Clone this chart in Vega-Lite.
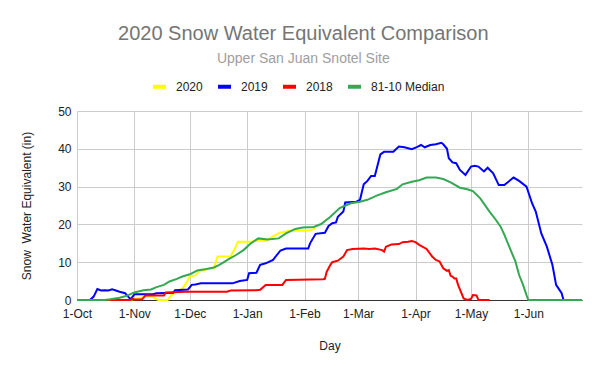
{
  "$schema": "https://vega.github.io/schema/vega-lite/v6.json",
  "width": 505,
  "height": 189,
  "autosize": {"type": "none"},
  "padding": {"left": 77, "top": 111, "right": 18, "bottom": 71},
  "background": "white",
  "title": {
    "text": "2020 Snow Water Equivalent Comparison",
    "subtitle": "Upper San Juan Snotel Site",
    "anchor": "middle",
    "frame": "bounds",
    "font": "Liberation Sans",
    "fontSize": 20,
    "fontWeight": "normal",
    "color": "#757575",
    "subtitleFont": "Liberation Sans",
    "subtitleFontSize": 14,
    "subtitleColor": "#9e9e9e",
    "subtitlePadding": 8,
    "offset": 12
  },
  "config": {
    "view": {"stroke": null},
    "font": "Liberation Sans",
    "axis": {
      "labelFont": "Liberation Sans",
      "labelFontSize": 12,
      "labelColor": "#222222",
      "titleFont": "Liberation Sans",
      "titleFontSize": 12,
      "titleFontWeight": "normal",
      "titleColor": "#222222",
      "grid": true,
      "gridColor": "#cccccc",
      "gridWidth": 1,
      "ticks": false
    },
    "legend": {
      "labelFont": "Liberation Sans",
      "labelFontSize": 12,
      "labelColor": "#222222"
    }
  },
  "data": {
    "values": [
      {"s": "2020", "date": "2019-10-01", "v": 0},
      {"s": "2020", "date": "2019-10-30", "v": 0},
      {"s": "2020", "date": "2019-11-01", "v": 0.3},
      {"s": "2020", "date": "2019-11-04", "v": 0.5},
      {"s": "2020", "date": "2019-11-06", "v": 0.9},
      {"s": "2020", "date": "2019-11-11", "v": 0.9},
      {"s": "2020", "date": "2019-11-12", "v": 0.4},
      {"s": "2020", "date": "2019-11-14", "v": 0},
      {"s": "2020", "date": "2019-11-19", "v": 0},
      {"s": "2020", "date": "2019-11-21", "v": 1.3},
      {"s": "2020", "date": "2019-11-24", "v": 2.2},
      {"s": "2020", "date": "2019-11-27", "v": 3.1},
      {"s": "2020", "date": "2019-11-29", "v": 4.4},
      {"s": "2020", "date": "2019-12-01", "v": 6.3},
      {"s": "2020", "date": "2019-12-04", "v": 6.5},
      {"s": "2020", "date": "2019-12-06", "v": 7.5},
      {"s": "2020", "date": "2019-12-10", "v": 8.1},
      {"s": "2020", "date": "2019-12-14", "v": 8.4},
      {"s": "2020", "date": "2019-12-16", "v": 11.5},
      {"s": "2020", "date": "2019-12-23", "v": 11.5},
      {"s": "2020", "date": "2019-12-25", "v": 13.2},
      {"s": "2020", "date": "2019-12-27", "v": 15.4},
      {"s": "2020", "date": "2020-01-03", "v": 15.4},
      {"s": "2020", "date": "2020-01-06", "v": 15.7},
      {"s": "2020", "date": "2020-01-11", "v": 15.7},
      {"s": "2020", "date": "2020-01-13", "v": 16.3},
      {"s": "2020", "date": "2020-01-18", "v": 17.6},
      {"s": "2020", "date": "2020-01-19", "v": 17.8},
      {"s": "2020", "date": "2020-01-24", "v": 18.3},
      {"s": "2020", "date": "2020-02-01", "v": 18.3},
      {"s": "2020", "date": "2020-02-04", "v": 18.5},
      {"s": "2020", "date": "2020-02-07", "v": 18.9},

      {"s": "2019", "date": "2019-10-01", "v": 0},
      {"s": "2019", "date": "2019-10-08", "v": 0},
      {"s": "2019", "date": "2019-10-10", "v": 0.9},
      {"s": "2019", "date": "2019-10-12", "v": 2.9},
      {"s": "2019", "date": "2019-10-14", "v": 2.5},
      {"s": "2019", "date": "2019-10-16", "v": 2.6},
      {"s": "2019", "date": "2019-10-18", "v": 2.5},
      {"s": "2019", "date": "2019-10-20", "v": 2.8},
      {"s": "2019", "date": "2019-10-22", "v": 2.5},
      {"s": "2019", "date": "2019-10-24", "v": 2.2},
      {"s": "2019", "date": "2019-10-27", "v": 1.8},
      {"s": "2019", "date": "2019-10-29", "v": 0.7},
      {"s": "2019", "date": "2019-10-30", "v": 0.2},
      {"s": "2019", "date": "2019-10-31", "v": 0.8},
      {"s": "2019", "date": "2019-11-01", "v": 1.5},
      {"s": "2019", "date": "2019-11-11", "v": 1.5},
      {"s": "2019", "date": "2019-11-13", "v": 1.8},
      {"s": "2019", "date": "2019-11-22", "v": 1.9},
      {"s": "2019", "date": "2019-11-23", "v": 2.6},
      {"s": "2019", "date": "2019-11-30", "v": 2.8},
      {"s": "2019", "date": "2019-12-02", "v": 4.0},
      {"s": "2019", "date": "2019-12-04", "v": 4.1},
      {"s": "2019", "date": "2019-12-07", "v": 4.4},
      {"s": "2019", "date": "2019-12-24", "v": 4.4},
      {"s": "2019", "date": "2019-12-28", "v": 5.0},
      {"s": "2019", "date": "2020-01-01", "v": 5.3},
      {"s": "2019", "date": "2020-01-02", "v": 7.1},
      {"s": "2019", "date": "2020-01-06", "v": 7.2},
      {"s": "2019", "date": "2020-01-08", "v": 9.3},
      {"s": "2019", "date": "2020-01-11", "v": 9.7},
      {"s": "2019", "date": "2020-01-15", "v": 10.6},
      {"s": "2019", "date": "2020-01-17", "v": 11.9},
      {"s": "2019", "date": "2020-01-19", "v": 13.1},
      {"s": "2019", "date": "2020-01-22", "v": 13.6},
      {"s": "2019", "date": "2020-02-03", "v": 13.6},
      {"s": "2019", "date": "2020-02-04", "v": 15.0},
      {"s": "2019", "date": "2020-02-07", "v": 17.5},
      {"s": "2019", "date": "2020-02-12", "v": 17.8},
      {"s": "2019", "date": "2020-02-14", "v": 19.6},
      {"s": "2019", "date": "2020-02-16", "v": 20.3},
      {"s": "2019", "date": "2020-02-18", "v": 20.5},
      {"s": "2019", "date": "2020-02-19", "v": 22.0},
      {"s": "2019", "date": "2020-02-22", "v": 23.4},
      {"s": "2019", "date": "2020-02-23", "v": 25.8},
      {"s": "2019", "date": "2020-02-29", "v": 26.0},
      {"s": "2019", "date": "2020-03-02", "v": 26.5},
      {"s": "2019", "date": "2020-03-04", "v": 30.6},
      {"s": "2019", "date": "2020-03-06", "v": 31.5},
      {"s": "2019", "date": "2020-03-08", "v": 32.8},
      {"s": "2019", "date": "2020-03-10", "v": 32.8},
      {"s": "2019", "date": "2020-03-13", "v": 38.5},
      {"s": "2019", "date": "2020-03-15", "v": 39.2},
      {"s": "2019", "date": "2020-03-20", "v": 39.2},
      {"s": "2019", "date": "2020-03-23", "v": 40.6},
      {"s": "2019", "date": "2020-03-26", "v": 40.4},
      {"s": "2019", "date": "2020-03-30", "v": 39.9},
      {"s": "2019", "date": "2020-04-02", "v": 40.5},
      {"s": "2019", "date": "2020-04-04", "v": 41.0},
      {"s": "2019", "date": "2020-04-06", "v": 40.4},
      {"s": "2019", "date": "2020-04-09", "v": 41.0},
      {"s": "2019", "date": "2020-04-12", "v": 41.2},
      {"s": "2019", "date": "2020-04-15", "v": 41.6},
      {"s": "2019", "date": "2020-04-16", "v": 41.2},
      {"s": "2019", "date": "2020-04-18", "v": 40.0},
      {"s": "2019", "date": "2020-04-19", "v": 37.5},
      {"s": "2019", "date": "2020-04-21", "v": 36.4},
      {"s": "2019", "date": "2020-04-23", "v": 36.2},
      {"s": "2019", "date": "2020-04-25", "v": 34.4},
      {"s": "2019", "date": "2020-04-28", "v": 33.1},
      {"s": "2019", "date": "2020-05-01", "v": 35.3},
      {"s": "2019", "date": "2020-05-03", "v": 35.5},
      {"s": "2019", "date": "2020-05-05", "v": 35.3},
      {"s": "2019", "date": "2020-05-08", "v": 34.0},
      {"s": "2019", "date": "2020-05-10", "v": 35.0},
      {"s": "2019", "date": "2020-05-13", "v": 33.5},
      {"s": "2019", "date": "2020-05-16", "v": 30.4},
      {"s": "2019", "date": "2020-05-19", "v": 30.4},
      {"s": "2019", "date": "2020-05-24", "v": 32.4},
      {"s": "2019", "date": "2020-05-27", "v": 31.5},
      {"s": "2019", "date": "2020-05-31", "v": 30.0},
      {"s": "2019", "date": "2020-06-03", "v": 25.6},
      {"s": "2019", "date": "2020-06-05", "v": 23.4},
      {"s": "2019", "date": "2020-06-08", "v": 17.6},
      {"s": "2019", "date": "2020-06-11", "v": 14.1},
      {"s": "2019", "date": "2020-06-14", "v": 9.3},
      {"s": "2019", "date": "2020-06-16", "v": 4.0},
      {"s": "2019", "date": "2020-06-19", "v": 1.8},
      {"s": "2019", "date": "2020-06-20", "v": 0},
      {"s": "2019", "date": "2020-06-30", "v": 0},

      {"s": "2018", "date": "2019-10-01", "v": 0},
      {"s": "2018", "date": "2019-10-30", "v": 0},
      {"s": "2018", "date": "2019-10-31", "v": 0.4},
      {"s": "2018", "date": "2019-11-01", "v": 0.1},
      {"s": "2018", "date": "2019-11-05", "v": 0.1},
      {"s": "2018", "date": "2019-11-07", "v": 1.2},
      {"s": "2018", "date": "2019-11-17", "v": 1.2},
      {"s": "2018", "date": "2019-11-18", "v": 2.0},
      {"s": "2018", "date": "2019-11-29", "v": 2.2},
      {"s": "2018", "date": "2019-12-21", "v": 2.2},
      {"s": "2018", "date": "2019-12-23", "v": 2.5},
      {"s": "2018", "date": "2020-01-06", "v": 2.6},
      {"s": "2018", "date": "2020-01-08", "v": 2.7},
      {"s": "2018", "date": "2020-01-11", "v": 4.0},
      {"s": "2018", "date": "2020-01-20", "v": 4.0},
      {"s": "2018", "date": "2020-01-22", "v": 5.3},
      {"s": "2018", "date": "2020-02-11", "v": 5.5},
      {"s": "2018", "date": "2020-02-12", "v": 5.6},
      {"s": "2018", "date": "2020-02-13", "v": 7.5},
      {"s": "2018", "date": "2020-02-15", "v": 9.3},
      {"s": "2018", "date": "2020-02-16", "v": 10.0},
      {"s": "2018", "date": "2020-02-19", "v": 10.4},
      {"s": "2018", "date": "2020-02-22", "v": 11.5},
      {"s": "2018", "date": "2020-02-24", "v": 13.2},
      {"s": "2018", "date": "2020-02-27", "v": 13.5},
      {"s": "2018", "date": "2020-03-04", "v": 13.6},
      {"s": "2018", "date": "2020-03-07", "v": 13.5},
      {"s": "2018", "date": "2020-03-10", "v": 13.6},
      {"s": "2018", "date": "2020-03-14", "v": 13.2},
      {"s": "2018", "date": "2020-03-15", "v": 12.8},
      {"s": "2018", "date": "2020-03-16", "v": 14.1},
      {"s": "2018", "date": "2020-03-19", "v": 14.7},
      {"s": "2018", "date": "2020-03-23", "v": 14.8},
      {"s": "2018", "date": "2020-03-25", "v": 15.3},
      {"s": "2018", "date": "2020-03-28", "v": 15.4},
      {"s": "2018", "date": "2020-03-30", "v": 15.6},
      {"s": "2018", "date": "2020-04-01", "v": 15.3},
      {"s": "2018", "date": "2020-04-03", "v": 14.6},
      {"s": "2018", "date": "2020-04-07", "v": 13.5},
      {"s": "2018", "date": "2020-04-10", "v": 11.5},
      {"s": "2018", "date": "2020-04-12", "v": 10.6},
      {"s": "2018", "date": "2020-04-14", "v": 10.2},
      {"s": "2018", "date": "2020-04-16", "v": 8.4},
      {"s": "2018", "date": "2020-04-18", "v": 7.7},
      {"s": "2018", "date": "2020-04-19", "v": 7.9},
      {"s": "2018", "date": "2020-04-20", "v": 6.4},
      {"s": "2018", "date": "2020-04-21", "v": 6.2},
      {"s": "2018", "date": "2020-04-22", "v": 5.7},
      {"s": "2018", "date": "2020-04-23", "v": 5.7},
      {"s": "2018", "date": "2020-04-24", "v": 4.0},
      {"s": "2018", "date": "2020-04-27", "v": 0.4},
      {"s": "2018", "date": "2020-04-29", "v": 0},
      {"s": "2018", "date": "2020-05-01", "v": 0.3},
      {"s": "2018", "date": "2020-05-02", "v": 1.3},
      {"s": "2018", "date": "2020-05-04", "v": 1.2},
      {"s": "2018", "date": "2020-05-05", "v": 0},
      {"s": "2018", "date": "2020-05-11", "v": 0},

      {"s": "81-10 Median", "date": "2019-10-01", "v": 0},
      {"s": "81-10 Median", "date": "2019-10-16", "v": 0},
      {"s": "81-10 Median", "date": "2019-10-19", "v": 0.2},
      {"s": "81-10 Median", "date": "2019-10-24", "v": 0.6},
      {"s": "81-10 Median", "date": "2019-10-28", "v": 1.1},
      {"s": "81-10 Median", "date": "2019-10-31", "v": 1.8},
      {"s": "81-10 Median", "date": "2019-11-02", "v": 2.1},
      {"s": "81-10 Median", "date": "2019-11-06", "v": 2.6},
      {"s": "81-10 Median", "date": "2019-11-10", "v": 2.8},
      {"s": "81-10 Median", "date": "2019-11-13", "v": 3.4},
      {"s": "81-10 Median", "date": "2019-11-17", "v": 4.0},
      {"s": "81-10 Median", "date": "2019-11-20", "v": 4.9},
      {"s": "81-10 Median", "date": "2019-11-24", "v": 5.6},
      {"s": "81-10 Median", "date": "2019-11-27", "v": 6.2},
      {"s": "81-10 Median", "date": "2019-12-01", "v": 6.8},
      {"s": "81-10 Median", "date": "2019-12-05", "v": 7.8},
      {"s": "81-10 Median", "date": "2019-12-10", "v": 8.2},
      {"s": "81-10 Median", "date": "2019-12-14", "v": 8.6},
      {"s": "81-10 Median", "date": "2019-12-17", "v": 9.3},
      {"s": "81-10 Median", "date": "2019-12-22", "v": 10.8},
      {"s": "81-10 Median", "date": "2019-12-26", "v": 11.9},
      {"s": "81-10 Median", "date": "2019-12-30", "v": 13.2},
      {"s": "81-10 Median", "date": "2020-01-03", "v": 15.0},
      {"s": "81-10 Median", "date": "2020-01-07", "v": 16.3},
      {"s": "81-10 Median", "date": "2020-01-12", "v": 16.0},
      {"s": "81-10 Median", "date": "2020-01-18", "v": 16.3},
      {"s": "81-10 Median", "date": "2020-01-22", "v": 17.6},
      {"s": "81-10 Median", "date": "2020-01-27", "v": 18.8},
      {"s": "81-10 Median", "date": "2020-01-31", "v": 19.2},
      {"s": "81-10 Median", "date": "2020-02-06", "v": 19.3},
      {"s": "81-10 Median", "date": "2020-02-10", "v": 20.1},
      {"s": "81-10 Median", "date": "2020-02-15", "v": 22.0},
      {"s": "81-10 Median", "date": "2020-02-20", "v": 24.3},
      {"s": "81-10 Median", "date": "2020-02-26", "v": 25.6},
      {"s": "81-10 Median", "date": "2020-03-02", "v": 26.0},
      {"s": "81-10 Median", "date": "2020-03-06", "v": 26.5},
      {"s": "81-10 Median", "date": "2020-03-11", "v": 27.6},
      {"s": "81-10 Median", "date": "2020-03-16", "v": 28.5},
      {"s": "81-10 Median", "date": "2020-03-22", "v": 29.4},
      {"s": "81-10 Median", "date": "2020-03-25", "v": 30.6},
      {"s": "81-10 Median", "date": "2020-03-30", "v": 31.3},
      {"s": "81-10 Median", "date": "2020-04-03", "v": 31.7},
      {"s": "81-10 Median", "date": "2020-04-07", "v": 32.4},
      {"s": "81-10 Median", "date": "2020-04-12", "v": 32.4},
      {"s": "81-10 Median", "date": "2020-04-16", "v": 32.0},
      {"s": "81-10 Median", "date": "2020-04-20", "v": 31.1},
      {"s": "81-10 Median", "date": "2020-04-25", "v": 29.7},
      {"s": "81-10 Median", "date": "2020-04-29", "v": 29.3},
      {"s": "81-10 Median", "date": "2020-05-02", "v": 28.8},
      {"s": "81-10 Median", "date": "2020-05-06", "v": 26.9},
      {"s": "81-10 Median", "date": "2020-05-11", "v": 23.4},
      {"s": "81-10 Median", "date": "2020-05-14", "v": 21.5},
      {"s": "81-10 Median", "date": "2020-05-17", "v": 19.4},
      {"s": "81-10 Median", "date": "2020-05-19", "v": 17.3},
      {"s": "81-10 Median", "date": "2020-05-22", "v": 13.7},
      {"s": "81-10 Median", "date": "2020-05-25", "v": 10.2},
      {"s": "81-10 Median", "date": "2020-05-27", "v": 6.6},
      {"s": "81-10 Median", "date": "2020-05-29", "v": 4.2},
      {"s": "81-10 Median", "date": "2020-05-31", "v": 1.3},
      {"s": "81-10 Median", "date": "2020-06-01", "v": 0},
      {"s": "81-10 Median", "date": "2020-06-30", "v": 0}
    ]
  },
  "mark": {"type": "line", "strokeWidth": 2, "interpolate": "linear"},
  "encoding": {
    "x": {
      "field": "date",
      "type": "temporal",
      "scale": {
        "type": "utc",
        "domain": [
          {"year": 2019, "month": 10, "date": 1, "utc": true},
          {"year": 2020, "month": 6, "date": 30, "utc": true}
        ]
      },
      "axis": {
        "title": "Day",
        "labelExpr": "utcFormat(datum.value, '%-d-%b')",
        "values": [
          {"year": 2019, "month": 10, "date": 1, "utc": true},
          {"year": 2019, "month": 11, "date": 1, "utc": true},
          {"year": 2019, "month": 12, "date": 1, "utc": true},
          {"year": 2020, "month": 1, "date": 1, "utc": true},
          {"year": 2020, "month": 2, "date": 1, "utc": true},
          {"year": 2020, "month": 3, "date": 1, "utc": true},
          {"year": 2020, "month": 4, "date": 1, "utc": true},
          {"year": 2020, "month": 5, "date": 1, "utc": true},
          {"year": 2020, "month": 6, "date": 1, "utc": true}
        ],
        "grid": true,
        "gridColor": "#cccccc",
        "domain": true,
        "domainColor": "#333333",
        "domainWidth": 1,
        "labelPadding": 8,
        "labelFlush": false,
        "labelOverlap": false,
        "titlePadding": 21
      }
    },
    "y": {
      "field": "v",
      "type": "quantitative",
      "scale": {"domain": [0, 50], "nice": false},
      "axis": {
        "title": "Snow \u00a0Water Equivalent (in)",
        "values": [0, 10, 20, 30, 40, 50],
        "domain": false,
        "labelPadding": 6,
        "titlePadding": 24
      }
    },
    "color": {
      "field": "s",
      "type": "nominal",
      "sort": null,
      "scale": {
        "domain": ["2020", "2019", "2018", "81-10 Median"],
        "range": ["#ffff00", "#0000ff", "#ff0000", "#34a853"]
      },
      "legend": {
        "title": null,
        "orient": "none",
        "direction": "horizontal",
        "legendX": 74,
        "legendY": -33,
        "padding": 0,
        "symbolType": "stroke",
        "symbolSize": 169,
        "symbolStrokeWidth": 4,
        "labelOffset": 8,
        "columnPadding": 7
      }
    }
  }
}
